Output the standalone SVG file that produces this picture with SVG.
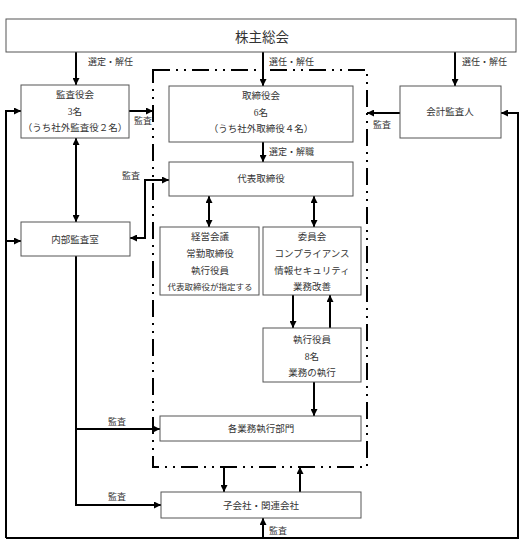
<svg xmlns="http://www.w3.org/2000/svg" width="524" height="558" viewBox="0 0 524 558">
<defs>
<marker id="ah" viewBox="0 0 8 8" refX="8" refY="4" markerWidth="7" markerHeight="7" markerUnits="userSpaceOnUse" orient="auto-start-reverse">
<path d="M0 0 L8 4 L0 8 Z" fill="#000"/>
</marker>
<style>
.box{fill:#fff;stroke:#555;stroke-width:1}
.t{font-family:"Liberation Serif","Noto Sans CJK JP",serif;font-size:9.5px;fill:#333;text-anchor:middle;dominant-baseline:central}
.s{font-size:8.5px}
.big{font-size:13.5px}
.lb{font-family:"Liberation Serif","Noto Sans CJK JP",serif;font-size:9px;fill:#333;dominant-baseline:central}
.c{fill:none;stroke:#000;stroke-width:2}
.a{marker-end:url(#ah)}
.b{marker-start:url(#ah);marker-end:url(#ah)}
</style>
</defs>
<rect width="524" height="558" fill="#fff"/>

<rect x="153" y="70" width="214" height="397" fill="none" stroke="#000" stroke-width="2" stroke-dasharray="17 6 2 6 2 6"/>

<g id="connectors">
<path class="c a" d="M76 52 V85"/>
<path class="c a" d="M263 52 V86"/>
<path class="c a" d="M455 52 V86"/>
<path class="c a" d="M129 111 H153"/>
<path class="c a" d="M400 113 H367"/>
<path class="c a" d="M263 142 V162"/>
<path class="c b" d="M76 138 V222"/>
<path class="c b" d="M130 238 H145 V180 H169"/>
<path class="c b" d="M209 196 V227"/>
<path class="c b" d="M314 196 V227"/>
<path class="c a" d="M293 295 V328"/>
<path class="c a" d="M330 328 V295"/>
<path class="c a" d="M314 382 V416"/>
<path class="c a" d="M76 256 V429 H160"/>
<path class="c a" d="M76 429 V505 H161"/>
<path class="c a" d="M224 467 V492"/>
<path class="c a" d="M300 492 V467"/>
<path class="c a" d="M6 538 V111 H21"/>
<path class="c a" d="M6 241 H21"/>
<path class="c a" d="M6 538 H518 V113 H501"/>
<path class="c a" d="M263 538 V518"/>
<text class="lb" x="88" y="62">選定・解任</text>
<text class="lb" x="269" y="62">選任・解任</text>
<text class="lb" x="462" y="62">選任・解任</text>
<text class="lb" x="134" y="121">監査</text>
<text class="lb" x="373" y="125">監査</text>
<text class="lb" x="269" y="152">選定・解職</text>
<text class="lb" x="122" y="176">監査</text>
<text class="lb" x="108" y="422">監査</text>
<text class="lb" x="108" y="497">監査</text>
<text class="lb" x="269" y="531">監査</text>
</g>

<g id="kabunushi">
<rect class="box" x="6" y="19" width="510" height="33"/>
<text class="t big" x="262" y="37">株主総会</text>
</g>
<g id="kansayakukai">
<rect class="box" x="21" y="85" width="108" height="53"/>
<text class="t" x="75" y="95">監査役会</text>
<text class="t" x="75" y="112">3名</text>
<text class="t" x="75" y="128">（うち社外監査役２名）</text>
</g>
<g id="torishimariyakukai">
<rect class="box" x="169" y="86" width="184" height="56"/>
<text class="t" x="261" y="96">取締役会</text>
<text class="t" x="261" y="113">6名</text>
<text class="t" x="261" y="129">（うち社外取締役４名）</text>
</g>
<g id="kaikei">
<rect class="box" x="400" y="86" width="101" height="52"/>
<text class="t" x="450" y="112">会計監査人</text>
</g>
<g id="daihyo">
<rect class="box" x="169" y="162" width="184" height="34"/>
<text class="t" x="261" y="179">代表取締役</text>
</g>
<g id="naibu">
<rect class="box" x="21" y="222" width="109" height="34"/>
<text class="t" x="75" y="240">内部監査室</text>
</g>
<g id="keiei">
<rect class="box" x="160" y="227" width="99" height="68"/>
<text class="t" x="210" y="237">経営会議</text>
<text class="t" x="210" y="254">常勤取締役</text>
<text class="t" x="210" y="271">執行役員</text>
<text class="t s" x="210" y="287">代表取締役が指定する</text>
</g>
<g id="iinkai">
<rect class="box" x="263" y="227" width="98" height="68"/>
<text class="t" x="312" y="237">委員会</text>
<text class="t" x="312" y="254">コンプライアンス</text>
<text class="t" x="312" y="271">情報セキュリティ</text>
<text class="t" x="312" y="287">業務改善</text>
</g>
<g id="shikko">
<rect class="box" x="263" y="328" width="98" height="54"/>
<text class="t" x="312" y="340">執行役員</text>
<text class="t" x="312" y="357">8名</text>
<text class="t" x="312" y="373">業務の執行</text>
</g>
<g id="kakugyomu">
<rect class="box" x="160" y="416" width="201" height="25"/>
<text class="t" x="261" y="429">各業務執行部門</text>
</g>
<g id="kogaisha">
<rect class="box" x="161" y="492" width="200" height="26"/>
<text class="t" x="261" y="506">子会社・関連会社</text>
</g>
</svg>
